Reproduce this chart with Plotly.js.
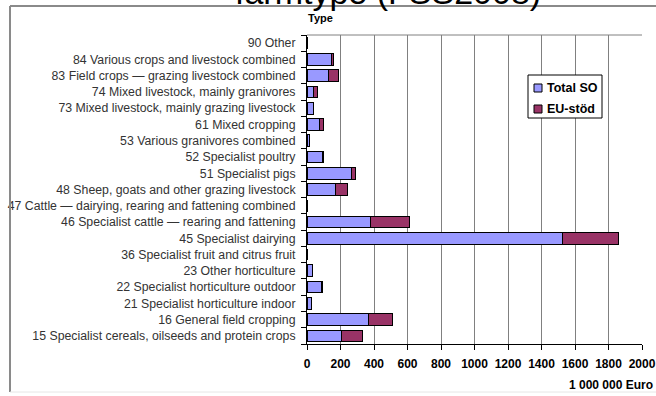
<!DOCTYPE html>
<html>
<head>
<meta charset="utf-8">
<script src="https://cdn.plot.ly/plotly-3.0.1.min.js"></script>
<style>html,body{margin:0;padding:0;background:#fff;}#chart{width:656px;height:396px;}</style>
</head>
<body>
<div id="chart"></div>
<script>
const categories = [
  "15 Specialist cereals, oilseeds and protein crops",
  "16 General field cropping",
  "21 Specialist horticulture indoor",
  "22 Specialist horticulture outdoor",
  "23 Other horticulture",
  "36 Specialist fruit and citrus fruit",
  "45 Specialist dairying",
  "46 Specialist cattle \u2014 rearing and fattening",
  "47 Cattle \u2014 dairying, rearing and fattening combined",
  "48 Sheep, goats and other grazing livestock",
  "51 Specialist pigs",
  "52 Specialist poultry",
  "53 Various granivores combined",
  "61 Mixed cropping",
  "73 Mixed livestock, mainly grazing livestock",
  "74 Mixed livestock, mainly granivores",
  "83 Field crops \u2014 grazing livestock combined",
  "84 Various crops and livestock combined",
  "90 Other"
];
const totalSO = [206, 365, 27, 86, 32, 0, 1527, 381, 0, 172, 267, 94, 12, 76, 36, 40, 130, 144, 0];
const euStod  = [123, 143, 2, 5, 2, 0, 331, 229, 0, 69, 24, 3, 2, 22, 3, 20, 58, 17, 0];
const seriesNames = ["Total SO", "EU-st\u00f6d"];
const seriesColors = ["#9999FF", "#993366"];
const xTicks = [0, 200, 400, 600, 800, 1000, 1200, 1400, 1600, 1800, 2000];

const FONT = "Liberation Sans, Arial, sans-serif";
const L = 307, R = 642, T = 35, B = 344;
const px = v => (v - L) / (R - L);
const py = v => (B - v) / (B - T);

const traces = [totalSO, euStod].map((vals, i) => ({
  type: "bar", orientation: "h", name: seriesNames[i], y: categories, x: vals,
  marker: {color: seriesColors[i], line: {color: "#000", width: 1}}
}));

// legend drawn as a compact Excel-style box
const legendShapes = [
  {type: "rect", xref: "paper", yref: "paper", x0: px(528), x1: px(602), y0: py(75), y1: py(118),
   fillcolor: "#fff", line: {color: "#000", width: 1}, layer: "above"}
];
const legendAnn = [];
const itemY = [88, 109];
seriesNames.forEach((n, i) => {
  legendShapes.push({type: "rect", xref: "paper", yref: "paper",
    x0: px(534), x1: px(542), y0: py(itemY[i] - 4), y1: py(itemY[i] + 4),
    fillcolor: seriesColors[i], line: {color: "#000", width: 1}, layer: "above"});
  legendAnn.push({text: n, xref: "paper", yref: "paper", x: px(545), y: py(itemY[i]),
    xanchor: "left", yanchor: "middle", showarrow: false,
    font: {family: FONT, size: 12.5, color: "#000", weight: "bold"}});
});

const layout = {
  width: 656, height: 396,
  margin: {l: L, r: 656 - R, t: T, b: 396 - B},
  paper_bgcolor: "#fff", plot_bgcolor: "#fff",
  barmode: "stack", bargap: 0.28,
  font: {family: FONT, color: "#000"},
  showlegend: false,
  xaxis: {
    range: [0, 2000], tickvals: xTicks, ticktext: xTicks.map(String),
    showgrid: true, gridcolor: "#808080", gridwidth: 1,
    zeroline: false, showline: true, linecolor: "#000", linewidth: 1,
    ticks: "outside", ticklen: 5, tickcolor: "#000", ticklabelstandoff: 4,
    tickfont: {family: FONT, size: 12, color: "#000", weight: "bold"}
  },
  yaxis: {
    type: "category", categoryorder: "array", categoryarray: categories,
    showgrid: false, zeroline: false, showline: true, linecolor: "#000", linewidth: 1,
    ticks: "outside", ticklen: 5, tickcolor: "#000", tickson: "boundaries",
    ticklabelstandoff: 8,
    tickfont: {family: FONT, size: 12.3, color: "#333"}
  },
  shapes: [
    {type: "line", xref: "paper", yref: "paper", x0: 0, x1: 1, y0: 1, y1: 1, line: {color: "#808080", width: 1}},
    {type: "line", xref: "paper", yref: "paper", x0: px(10), x1: px(660), y0: py(6), y1: py(6), line: {color: "#8a8a8a", width: 2}},
    {type: "line", xref: "paper", yref: "paper", x0: px(10), x1: px(10), y0: py(6), y1: py(392), line: {color: "#8a8a8a", width: 2}},
    {type: "line", xref: "paper", yref: "paper", x0: px(10), x1: px(660), y0: py(392), y1: py(392), line: {color: "#e6e6e6", width: 1}}
  ].concat(legendShapes),
  annotations: [
    {text: "farmtype (FSS2008)", xref: "paper", yref: "paper", x: px(388), y: py(13),
     xanchor: "center", yanchor: "bottom", showarrow: false,
     font: {family: FONT, size: 34, color: "#000"}},
    {text: "Type", xref: "paper", yref: "paper", x: px(320), y: py(18),
     xanchor: "center", yanchor: "middle", showarrow: false,
     font: {family: FONT, size: 11, color: "#000", weight: "bold"}},
    {text: "1 000 000 Euro", xref: "paper", yref: "paper", x: px(655), y: py(385),
     xanchor: "right", yanchor: "middle", showarrow: false,
     font: {family: FONT, size: 12, color: "#000", weight: "bold"}}
  ].concat(legendAnn)
};

Plotly.newPlot("chart", traces, layout, {displayModeBar: false, staticPlot: true});
</script>
</body>
</html>
